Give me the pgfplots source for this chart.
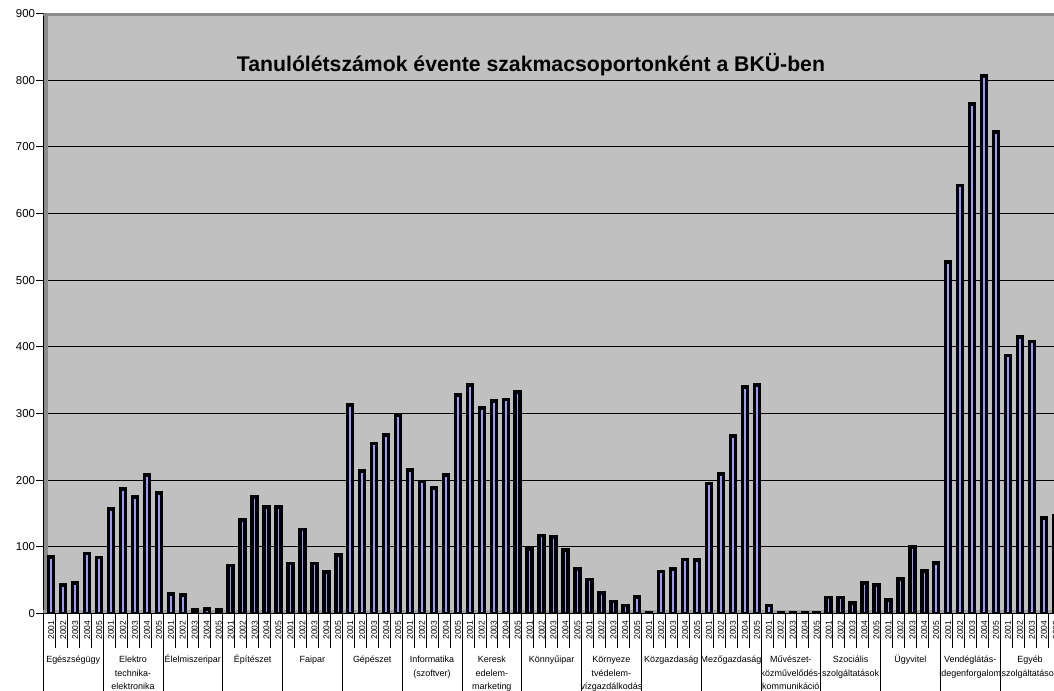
\documentclass[border=0pt]{standalone}
\usepackage{pgfplots}
\pgfplotsset{compat=1.18}
\usepackage{fontspec}
\setmainfont{Liberation Sans}
\definecolor{wall}{HTML}{C0C0C0}
\definecolor{barblue}{HTML}{9999FF}
\definecolor{edgegray}{HTML}{8C8C8C}
\definecolor{floorgray}{HTML}{A0A0A0}
\pgfplotstableread{
x y
0 85
1 43
2 46
3 90
4 84
5 157
6 187
7 175
8 208
9 181
10 29
11 28
12 5
13 7
14 5
15 72
16 140
17 175
18 160
19 160
20 75
21 126
22 75
23 62
24 88
25 313
26 214
27 255
28 268
29 297
30 215
31 198
32 188
33 208
34 328
35 343
36 308
37 319
38 321
39 332
40 97
41 117
42 115
43 95
44 67
45 51
46 31
47 18
48 12
49 25
50 1
51 63
52 67
53 81
54 80
55 195
56 209
57 266
58 340
59 343
60 12
61 1
62 1
63 1
64 1
65 24
66 24
67 16
68 46
69 43
70 20
71 52
72 100
73 64
74 76
75 527
76 642
77 764
78 806
79 722
80 387
81 415
82 408
83 143
84 147
}\datatable
\begin{document}
\begin{tikzpicture}
\begin{axis}[
  scale only axis, width=1016.6bp, height=600bp,
  xmin=-0.5, xmax=84.5, ymin=0, ymax=900,
  axis x line*=bottom, axis y line*=left,
  axis line style={black, line width=0.8bp},
  axis background/.style={fill=wall},
  ybar, bar width=5bp, bar shift=2bp,
  ytick={0,100,...,900},
  yticklabels={0,100,200,300,400,500,600,700,800,900},
  yticklabel style={font=\fontsize{11.5}{12}\selectfont, inner sep=1bp},
  ymajorgrids, major grid style={black, line width=0.7bp},
  tick align=outside, major tick length=7bp,
  ytick style={black, line width=0.7bp},
  xtick={0,...,84},
  xtick style={draw=none},
  xticklabels={2001,2002,2003,2004,2005,2001,2002,2003,2004,2005,2001,2002,2003,2004,2005,2001,2002,2003,2004,2005,2001,2002,2003,2004,2005,2001,2002,2003,2004,2005,2001,2002,2003,2004,2005,2001,2002,2003,2004,2005,2001,2002,2003,2004,2005,2001,2002,2003,2004,2005,2001,2002,2003,2004,2005,2001,2002,2003,2004,2005,2001,2002,2003,2004,2005,2001,2002,2003,2004,2005,2001,2002,2003,2004,2005,2001,2002,2003,2004,2005,2001,2002,2003,2004,2005},
  xticklabel style={rotate=90, anchor=east, font=\fontsize{8.5}{8.5}\selectfont, inner sep=0pt, yshift=-2bp},
]
\draw[edgegray, line width=4bp] ([xshift=3bp]rel axis cs:0,0) -- ([xshift=3bp]rel axis cs:0,1);
\draw[edgegray, line width=3.5bp] ([yshift=-0.5bp]rel axis cs:0,1) -- ([yshift=-0.5bp]rel axis cs:1,1);
\draw[floorgray, line width=3bp] ([yshift=1.5bp]rel axis cs:0,0) -- ([yshift=1.5bp]rel axis cs:1,0);
\addplot[fill=barblue, draw=black, line width=3.4bp] table[x=x, y=y] {\datatable};
\coordinate (sw) at (rel axis cs:0,0);
\coordinate (nw) at (rel axis cs:0,1);
\end{axis}
\foreach \k in {0,...,85} \draw[black, line width=0.6bp] ([xshift=\k*11.96bp]sw) -- ++(0,-35bp);
\foreach \k in {0,...,17} \draw[black, line width=0.7bp] ([xshift=\k*59.8bp]sw) -- ++(0,-77.5bp);
\foreach \g/\txt in {0/{Egészségügy}, 1/{Elektro\\technika-\\elektronika}, 2/{Élelmiszeripar}, 3/{Építészet}, 4/{Faipar}, 5/{Gépészet}, 6/{Informatika\\(szoftver)}, 7/{Keresk\\edelem-\\marketing}, 8/{Könnyűipar}, 9/{Környeze\\tvédelem-\\vízgazdálkodás}, 10/{Közgazdaság}, 11/{Mezőgazdaság}, 12/{Művészet-\\közművelődés-\\kommunikáció}, 13/{Szociális\\szolgáltatások}, 14/{Ügyvitel}, 15/{Vendéglátás-\\idegenforgalom}, 16/{Egyéb\\szolgáltatások}}
  \node[anchor=base, font=\fontsize{9}{13.5}\selectfont, inner sep=0pt] at ([xshift={(5*\g+2.5)*11.96bp}, yshift=-49.5bp]sw) {\begin{tabular}[t]{@{}c@{}}\txt\end{tabular}};
\node[anchor=base, font=\bfseries\fontsize{21.3}{25}\selectfont, inner sep=0pt] at ([xshift=487.7bp, yshift=-58.2bp]nw) {Tanulólétszámok évente szakmacsoportonként a BKÜ-ben};
\pgfresetboundingbox
\path[use as bounding box] ([xshift=-43.3bp,yshift=-77.5bp]sw) rectangle ([xshift=1010.7bp,yshift=13.5bp]nw);
\end{tikzpicture}
\end{document}
